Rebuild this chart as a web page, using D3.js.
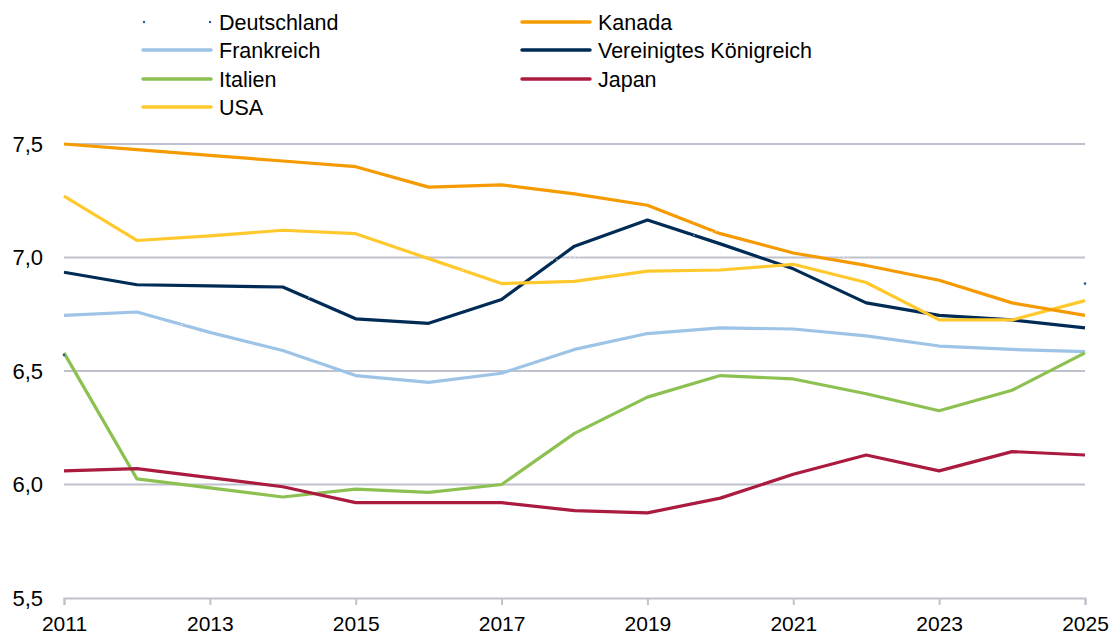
<!DOCTYPE html>
<html lang="de">
<head>
<meta charset="UTF-8">
<title>Chart</title>
<style>
  body { margin: 0; background: #fff; }
  svg { display: block; font-family: "Liberation Sans", Arial, sans-serif; }
</style>
</head>
<body>
<script src="https://cdn.jsdelivr.net/npm/d3@7"></script>
<script>
const years = d3.range(2011, 2026);
const xTicks = [2011, 2013, 2015, 2017, 2019, 2021, 2023, 2025];
const yTicks = [5.5, 6.0, 6.5, 7.0, 7.5];

const deutschland = [6.57, 6.68, 6.72, 6.78, 6.90, 6.93, 6.96, 7.00, 7.06, 7.12, 7.05, 6.98, 6.92, 6.88, 6.885];
const kanada = [7.50, 7.475, 7.45, 7.425, 7.40, 7.31, 7.32, 7.28, 7.23, 7.105, 7.02, 6.965, 6.90, 6.80, 6.745];
const usa = [7.27, 7.075, 7.095, 7.12, 7.105, 6.995, 6.885, 6.895, 6.94, 6.945, 6.97, 6.89, 6.725, 6.725, 6.81];
const uk = [6.935, 6.88, 6.875, 6.87, 6.73, 6.71, 6.815, 7.05, 7.165, 7.06, 6.95, 6.80, 6.745, 6.725, 6.69];
const frankreich = [6.745, 6.76, 6.67, 6.59, 6.48, 6.45, 6.49, 6.595, 6.665, 6.69, 6.685, 6.655, 6.61, 6.595, 6.585];
const italien = [6.58, 6.025, 5.985, 5.945, 5.98, 5.965, 6.0, 6.225, 6.385, 6.48, 6.465, 6.40, 6.325, 6.415, 6.58];
const japan = [6.06, 6.07, 6.03, 5.99, 5.92, 5.92, 5.92, 5.885, 5.875, 5.94, 6.045, 6.13, 6.06, 6.145, 6.13];

const series = [
  { name: "Deutschland", values: deutschland, color: "#ffffff", col: 0, row: 0 },
  { name: "Frankreich", values: frankreich, color: "#9dc3e6", col: 0, row: 1 },
  { name: "Italien", values: italien, color: "#8cc152", col: 0, row: 2 },
  { name: "USA", values: usa, color: "#ffc92e", col: 0, row: 3 },
  { name: "Kanada", values: kanada, color: "#f59a00", col: 1, row: 0 },
  { name: "Vereinigtes Königreich", values: uk, color: "#002b55", col: 1, row: 1 },
  { name: "Japan", values: japan, color: "#ab1a3f", col: 1, row: 2 }
];

const width = 1113, height = 637;
const svg = d3.select("body").append("svg").attr("width", width).attr("height", height);

const x = d3.scaleLinear().domain([2011, 2025]).range([64, 1085]);
const y = d3.scaleLinear().domain([5.5, 7.5]).range([598, 144]);
const gridColor = "#bfc2cc";
const fmt = v => d3.format(".1f")(v).replace(".", ",");

// horizontal grid lines
svg.append("g").selectAll("line")
  .data(yTicks.slice(1))
  .join("line")
  .attr("x1", x(2011)).attr("x2", x(2025))
  .attr("y1", d => y(d)).attr("y2", d => y(d))
  .attr("stroke", gridColor).attr("stroke-width", 2);

// y labels
svg.append("g").selectAll("text")
  .data(yTicks)
  .join("text")
  .attr("x", 43).attr("y", d => y(d))
  .attr("dy", "0.35em")
  .attr("text-anchor", "end")
  .attr("font-size", 22)
  .attr("fill", "#000")
  .text(fmt);

// x axis
const xAxis = svg.append("g")
  .attr("transform", `translate(0,${y(5.5)})`)
  .call(d3.axisBottom(x).tickValues(xTicks).tickFormat(d3.format("d")).tickSize(7).tickPadding(11));
xAxis.select(".domain").attr("stroke", gridColor).attr("stroke-width", 2);
xAxis.selectAll(".tick line").attr("stroke", gridColor).attr("stroke-width", 2);
xAxis.selectAll(".tick text").attr("font-size", 21).attr("fill", "#000")
  .attr("font-family", "Liberation Sans, Arial, sans-serif");

// lines
const line = d3.line().x((d, i) => x(years[i])).y(d => y(d));
const order = ["Frankreich", "Italien", "Japan", "Vereinigtes Königreich", "USA", "Kanada", "Deutschland"];
order.forEach(n => {
  const s = series.find(e => e.name === n);
  const p = svg.append("path")
    .datum(s.values)
    .attr("d", line)
    .attr("fill", "none")
    .attr("stroke", s.color)
    .attr("stroke-width", n === "Deutschland" ? 1 : 3.2)
    .attr("stroke-linejoin", "round");
  if (n === "Deutschland") p.attr("stroke-dasharray", "1.5,3").attr("stroke-opacity", 0.8);
});

// Deutschland end markers
const de = deutschland;
svg.append("g").selectAll("circle")
  .data([[2011, de[0]], [2025, de[de.length - 1]]])
  .join("circle")
  .attr("cx", d => x(d[0])).attr("cy", d => y(d[1]))
  .attr("r", 1.3).attr("fill", "#2a5a9a");

// legend
const legend = svg.append("g");
const colX = [143, 522], rowY = [22, 50, 79, 107];
series.forEach(s => {
  const gx = colX[s.col], gy = rowY[s.row];
  if (s.name === "Deutschland") {
    legend.append("circle").attr("cx", gx + 1).attr("cy", gy).attr("r", 1.2).attr("fill", "#2a5a9a");
    legend.append("circle").attr("cx", gx + 67).attr("cy", gy).attr("r", 1.2).attr("fill", "#2a5a9a");
  } else {
    legend.append("line")
      .attr("x1", gx).attr("x2", gx + 68)
      .attr("y1", gy).attr("y2", gy)
      .attr("stroke", s.color).attr("stroke-width", 3.5).attr("stroke-linecap", "round");
  }
  legend.append("text")
    .attr("x", gx + 76).attr("y", gy)
    .attr("dy", "0.35em")
    .attr("font-size", 21.5)
    .attr("fill", "#000")
    .text(s.name);
});
</script>
</body>
</html>
